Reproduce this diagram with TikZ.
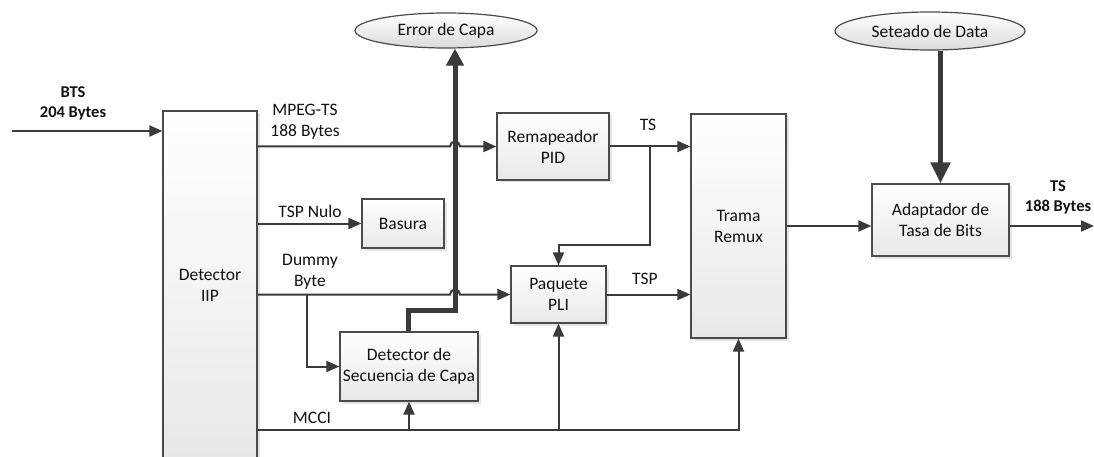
\documentclass[tikz,border=0pt]{standalone}
\usepackage{fontspec}
\setmainfont{Carlito}
\usetikzlibrary{arrows.meta,shadows,calc,shapes.geometric}
\definecolor{ln}{HTML}{3A3A3A}
\definecolor{bd}{HTML}{4A4A4A}
\definecolor{tx}{HTML}{111111}
\tikzset{
  blk/.style={draw=bd, line width=1.2pt, top color=white, bottom color=gray!18,
    drop shadow={shadow xshift=2.5pt, shadow yshift=-2.5pt, fill=gray!60, opacity=.35},
    inner sep=0pt, align=center, text=tx, font=\fontsize{17.5}{21}\selectfont},
  ell/.style={ellipse, draw=bd, line width=1.2pt, top color=white, bottom color=gray!28,
    inner sep=0pt, align=center, text=tx, font=\fontsize{17.5}{21}\selectfont},
  conn/.style={draw=ln, line width=2pt, -{Triangle[length=13pt,width=11pt]}},
  fat/.style={draw=ln, line width=5pt},
  lbl/.style={text=tx, align=center, inner sep=0pt, font=\fontsize{17.5}{21}\selectfont},
  blbl/.style={text=tx, align=center, inner sep=0pt, font=\bfseries\fontsize{16.5}{20}\selectfont},
}
\begin{document}
\begin{tikzpicture}[x=1pt,y=-1pt]
\useasboundingbox (0,0) rectangle (1094,457);
\fill[white] (0,0) rectangle (1094,457);

% nodes
\node[blk, minimum width=94pt, minimum height=349pt] (iip) at (210,285.5) {Detector\\IIP};
\node[blk, minimum width=112pt, minimum height=67pt] (remap) at (553,146.5) {Remapeador\\PID};
\node[blk, minimum width=82pt, minimum height=49pt] (bas) at (403,223.5) {Basura};
\node[blk, minimum width=95pt, minimum height=57pt] (pli) at (558.5,294.5) {Paquete\\PLI};
\node[blk, minimum width=138pt, minimum height=69pt] (dsc) at (409,366.5) {Detector de\\Secuencia de Capa};
\node[blk, minimum width=95pt, minimum height=224pt] (trama) at (738.5,226) {Trama\\Remux};
\node[blk, minimum width=137pt, minimum height=72pt] (adap) at (940.5,220) {Adaptador de\\Tasa de Bits};
\node[ell, minimum width=182pt, minimum height=35pt] (err) at (446,30.5) {Error de Capa};
\node[ell, minimum width=190pt, minimum height=38pt] (set) at (930,31) {Seteado de Data};

% coordinates
\coordinate (in) at (12,131);
\coordinate (tsb) at (650,146.5);
\coordinate (tsk) at (650,245);
\coordinate (db) at (307,294.5);
\coordinate (t1) at (408,310);
\coordinate (t2) at (455,310);
\coordinate (m0) at (257,430);
\coordinate (out) at (1094,226);

% thick path to Error de Capa
\draw[fat, -{Triangle[length=17pt,width=17pt]}] (dsc.north -| t1) -- (t1) -- (t2) -- (err.south -| t2);
% thick from Seteado
\draw[fat, -{Triangle[length=21pt,width=19pt]}] (set.south -| adap.north) -- (adap.north);

% input
\draw[conn] (in) -- (in -| iip.west);
% MPEG-TS with jump
\draw[conn] (remap.west -| iip.east) -- ($(remap.west -| t2)+(-5pt,0)$) arc[start angle=180,end angle=0,radius=5pt] -- (remap.west);
% TSP Nulo
\draw[conn] (bas.west -| iip.east) -- (bas.west);
% Dummy byte with jump
\draw[conn] (pli.west -| iip.east) -- ($(pli.west -| t2)+(-5pt,0)$) arc[start angle=180,end angle=0,radius=5pt] -- (pli.west);
\draw[conn] (db) |- (dsc.west);
% TS
\draw[conn] (remap.east) -- (remap.east -| trama.west);
\draw[conn] (tsb) -- (tsk) -| (pli.north);
% TSP
\draw[conn] (pli.east) -- (pli.east -| trama.west);
% MCCI
\draw[conn] (m0) -| (trama.south);
\draw[conn] (pli.south |- m0) -- (pli.south);
\draw[conn] (dsc.south |- m0) -- (dsc.south);
% to adapter and out
\draw[conn] (trama.east) -- (trama.east -| adap.west);
\draw[conn] (trama.east -| adap.east) -- (out);

% labels
\node[blbl] (lbts) at (73,103.5) {BTS\\204 Bytes};
\node[lbl] (lmpeg) at (305,122) {MPEG-TS\\188 Bytes};
\node[lbl] (lnulo) at (310,211) {TSP Nulo};
\node[lbl] (ldum) at (310,272) {Dummy\\Byte};
\node[lbl] (lts) at (648,125) {TS};
\node[lbl] (ltsp) at (645,279) {TSP};
\node[lbl] (lmcci) at (312,418) {MCCI};
\node[blbl] (lout) at (1058,197.5) {TS\\188 Bytes};
\end{tikzpicture}
\end{document}
